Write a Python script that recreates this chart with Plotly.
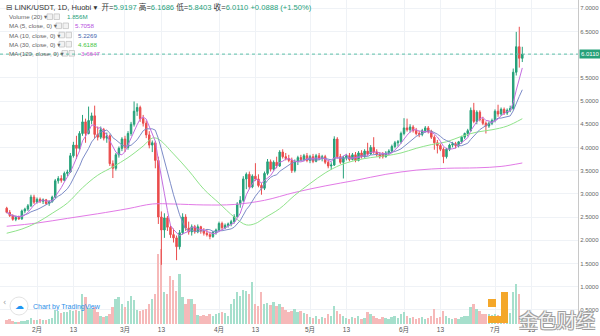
import plotly.graph_objects as go
import pandas as pd

# ---------------- data ----------------
start_date = "2020-01-22"

opens = [2.69, 2.60, 2.53, 2.45, 2.49, 2.46, 2.63, 2.67, 2.74, 2.93,
         2.82, 2.88, 2.84, 2.87, 2.79, 2.83, 2.93, 3.28, 3.33, 3.29,
         3.44, 3.47, 3.82, 4.05, 3.98, 4.30, 4.55, 4.30, 4.58, 4.68,
         4.28, 4.22, 4.38, 4.20, 4.25, 3.65, 3.55, 3.84, 3.98, 4.18,
         4.00, 4.30, 4.50, 4.78, 4.86, 4.62, 4.52, 4.27, 4.05, 4.10,
         3.72, 2.50, 2.22, 2.48, 2.28, 2.12, 2.05, 1.86, 2.16, 2.50,
         2.26, 2.18, 2.29, 2.18, 2.29, 2.20, 2.15, 2.12, 2.08, 2.17,
         2.22, 2.36, 2.27, 2.32, 2.35, 2.40, 2.51, 2.78, 2.86, 3.32,
         3.42, 3.15, 3.38, 3.32, 3.18, 3.12, 3.44, 3.69, 3.53, 3.68,
         3.60, 3.90, 3.80, 3.76, 3.72, 3.50, 3.70, 3.78, 3.74, 3.82,
         3.72, 3.80, 3.70, 3.82, 3.76, 3.80, 3.68, 3.60, 3.62, 4.18,
         3.80, 3.68, 3.78, 3.82, 3.74, 3.84, 3.72, 3.88, 3.80, 3.92,
         3.86, 4.00, 3.90, 3.84, 3.86, 3.80, 3.88, 3.92, 4.02, 4.10,
         4.12, 4.30, 4.42, 4.38, 4.44, 4.36, 4.30, 4.28, 4.36, 4.42,
         4.34, 4.22, 4.10, 4.04, 3.96, 3.80, 3.96, 4.05, 4.08, 4.04,
         4.12, 4.22, 4.30, 4.36, 4.80, 4.56, 4.76, 4.60, 4.52, 4.46,
         4.52, 4.58, 4.78, 4.72, 4.82, 4.74, 4.80, 4.84, 5.62, 6.17,
         5.9197]
highs = [2.72, 2.65, 2.56, 2.52, 2.53, 2.66, 2.70, 2.78, 2.98, 2.98,
         2.92, 2.92, 2.90, 2.89, 2.86, 2.96, 3.32, 3.38, 3.40, 3.48,
         3.52, 3.88, 4.12, 4.25, 4.35, 4.70, 4.62, 4.88, 4.75, 4.90,
         4.45, 4.45, 4.42, 4.32, 4.28, 3.72, 3.88, 4.02, 4.22, 4.25,
         4.35, 4.55, 4.99, 4.95, 4.90, 4.70, 4.58, 4.35, 4.15, 4.14,
         3.80, 2.62, 2.58, 2.52, 2.32, 2.25, 2.10, 2.22, 2.58, 2.56,
         2.40, 2.34, 2.33, 2.34, 2.31, 2.26, 2.24, 2.18, 2.20, 2.25,
         2.40, 2.40, 2.36, 2.38, 2.44, 2.56, 2.82, 2.95, 3.38, 3.46,
         3.48, 3.42, 3.66, 3.42, 3.24, 3.48, 3.75, 3.74, 3.72, 3.80,
         3.94, 3.96, 3.88, 3.84, 3.78, 3.74, 3.82, 3.84, 3.86, 3.88,
         3.84, 3.86, 3.86, 3.88, 3.84, 3.84, 3.72, 3.68, 4.24, 4.22,
         3.86, 3.82, 3.86, 3.88, 3.88, 3.90, 3.92, 3.94, 3.96, 4.10,
         4.05, 4.22, 3.96, 3.90, 3.90, 3.92, 3.96, 4.06, 4.14, 4.16,
         4.34, 4.63, 4.62, 4.50, 4.48, 4.42, 4.36, 4.40, 4.46, 4.46,
         4.38, 4.26, 4.16, 4.08, 4.00, 3.99, 4.08, 4.12, 4.12, 4.14,
         4.25, 4.32, 4.40, 4.86, 4.96, 4.80, 4.80, 4.66, 4.56, 4.56,
         4.62, 4.82, 4.92, 4.86, 4.86, 4.84, 4.90, 5.70, 6.49, 6.60,
         6.1686]
lows = [2.58, 2.50, 2.42, 2.41, 2.44, 2.44, 2.58, 2.63, 2.72, 2.78,
        2.79, 2.80, 2.78, 2.76, 2.74, 2.81, 2.91, 3.22, 3.24, 3.27,
        3.38, 3.45, 3.78, 3.75, 3.95, 4.25, 4.10, 4.28, 4.50, 4.20,
        4.15, 4.18, 4.15, 4.10, 3.60, 3.34, 3.50, 3.78, 3.92, 3.90,
        3.95, 4.25, 4.45, 4.68, 4.55, 4.45, 4.20, 3.98, 3.90, 3.55,
        2.35, 1.47, 2.05, 2.20, 2.05, 1.95, 1.57, 1.80, 2.12, 2.20,
        2.12, 2.10, 2.14, 2.15, 2.14, 2.10, 2.08, 2.02, 2.05, 2.12,
        2.18, 2.22, 2.24, 2.27, 2.30, 2.36, 2.48, 2.70, 2.82, 3.10,
        3.10, 3.12, 3.28, 3.14, 2.98, 3.08, 3.40, 3.48, 3.50, 3.55,
        3.58, 3.76, 3.72, 3.68, 3.45, 3.46, 3.62, 3.70, 3.70, 3.68,
        3.66, 3.66, 3.68, 3.72, 3.70, 3.64, 3.55, 3.52, 3.60, 3.76,
        3.64, 3.33, 3.72, 3.70, 3.72, 3.68, 3.70, 3.76, 3.78, 3.82,
        3.84, 3.86, 3.80, 3.76, 3.76, 3.78, 3.84, 3.88, 3.98, 4.02,
        4.08, 4.26, 4.34, 4.32, 4.32, 4.26, 4.22, 4.24, 4.32, 4.30,
        4.18, 3.95, 3.87, 3.92, 3.66, 3.76, 3.92, 4.00, 3.98, 4.00,
        4.08, 4.18, 4.24, 4.34, 4.52, 4.50, 4.56, 4.48, 4.30, 4.42,
        4.48, 4.54, 4.66, 4.68, 4.70, 4.70, 4.76, 4.80, 5.55, 5.72,
        5.8403]
closes = [2.60, 2.53, 2.45, 2.49, 2.46, 2.63, 2.67, 2.74, 2.93, 2.82,
          2.88, 2.84, 2.87, 2.79, 2.83, 2.93, 3.28, 3.33, 3.29, 3.44,
          3.47, 3.82, 4.05, 3.98, 4.30, 4.55, 4.30, 4.58, 4.68, 4.28,
          4.22, 4.38, 4.20, 4.25, 3.65, 3.55, 3.84, 3.98, 4.18, 4.00,
          4.30, 4.50, 4.78, 4.86, 4.62, 4.52, 4.27, 4.05, 4.10, 3.72,
          2.50, 2.22, 2.48, 2.28, 2.12, 2.05, 1.86, 2.16, 2.50, 2.26,
          2.18, 2.29, 2.18, 2.29, 2.20, 2.15, 2.12, 2.08, 2.17, 2.22,
          2.36, 2.27, 2.32, 2.35, 2.40, 2.51, 2.78, 2.86, 3.32, 3.42,
          3.15, 3.38, 3.32, 3.18, 3.12, 3.44, 3.69, 3.53, 3.68, 3.60,
          3.90, 3.80, 3.76, 3.72, 3.50, 3.70, 3.78, 3.74, 3.82, 3.72,
          3.80, 3.70, 3.82, 3.76, 3.80, 3.68, 3.60, 3.62, 4.18, 3.80,
          3.68, 3.78, 3.82, 3.74, 3.84, 3.72, 3.88, 3.80, 3.92, 3.86,
          4.00, 3.90, 3.84, 3.80, 3.80, 3.88, 3.92, 4.02, 4.10, 4.12,
          4.30, 4.42, 4.38, 4.44, 4.36, 4.30, 4.28, 4.36, 4.42, 4.34,
          4.22, 4.10, 4.04, 3.96, 3.80, 3.96, 4.05, 4.08, 4.04, 4.12,
          4.22, 4.30, 4.36, 4.80, 4.56, 4.76, 4.60, 4.52, 4.46, 4.52,
          4.58, 4.78, 4.72, 4.82, 4.74, 4.80, 4.84, 5.62, 6.17, 5.9222,
          6.0110]
volumes = [0.8, 1.0, 0.6, 0.4, 0.4, 0.6, 0.6, 0.8, 1.2, 0.8,
           0.8, 1.0, 0.8, 0.8, 1.0, 1.2, 2.8, 2.6, 2.2, 2.4,
           2.4, 2.8, 2.6, 2.8, 2.6, 6.0, 5.4, 3.2, 3.0, 3.4,
           2.4, 1.6, 1.4, 1.6, 2.0, 3.4, 5.0, 5.4, 4.0, 3.4,
           4.6, 5.6, 4.8, 2.8, 2.6, 2.8, 3.0, 4.0, 5.0, 6.0,
           14.0, 15.0, 6.4, 6.0, 9.6, 8.8, 6.6, 10.0, 5.4, 4.0,
           5.0, 5.0, 4.0, 1.8, 1.6, 1.8, 1.6, 2.0, 1.6, 2.0,
           2.2, 2.4, 2.2, 1.6, 4.0, 5.0, 6.4, 5.6, 6.8, 6.6,
           6.0, 8.4, 4.0, 3.6, 6.4, 4.0, 4.2, 3.8, 4.4, 3.6,
           4.0, 3.4, 2.8, 2.4, 2.6, 3.0, 2.4, 2.6, 2.2, 2.0,
           1.4, 1.2, 1.6, 1.0, 1.4, 1.2, 2.0, 1.6, 3.6, 2.6,
           2.0, 1.6, 1.2, 1.0, 1.4, 1.2, 1.6, 1.0, 1.2, 2.4,
           2.0, 1.6, 1.2, 1.0, 1.4, 1.2, 1.0, 1.4, 1.6, 1.2,
           2.0, 2.4, 1.6, 1.2, 1.4, 1.0, 1.2, 1.4, 1.0, 1.2,
           1.6, 3.0, 1.2, 1.4, 2.6, 1.6, 1.2, 1.0, 1.2, 1.0,
           1.4, 1.6, 1.6, 3.4, 4.0, 3.0, 2.6, 2.0, 2.0, 2.0,
           1.8, 2.0, 1.8, 1.6, 1.8, 2.0, 2.2, 6.4, 8.0, 6.0,
           1.856]

# moving averages (day index, value)
ma30_idx = [0, 5, 10, 15, 20, 25, 30, 35, 40, 45, 48, 50, 55, 60, 65, 70, 75, 79,
            82, 85, 90, 95, 100, 105, 110, 115, 120, 125, 130, 135, 140, 145,
            150, 155, 160, 165, 170]
ma30_val = [2.15, 2.24, 2.38, 2.58, 2.80, 3.13, 3.40, 3.58, 3.78, 4.03, 4.20, 4.18,
            3.86, 3.50, 3.10, 2.80, 2.50, 2.33, 2.36, 2.48, 2.68, 2.97, 3.22, 3.45,
            3.62, 3.72, 3.78, 3.82, 3.88, 3.98, 4.06, 4.12, 4.24, 4.33, 4.38, 4.46,
            4.6188]
ma120_idx = [0, 10, 20, 30, 40, 48, 55, 65, 75, 85, 95, 105, 115, 125, 135, 145,
             155, 163, 170]
ma120_val = [2.30, 2.37, 2.47, 2.57, 2.68, 2.78, 2.78, 2.76, 2.77, 2.86, 3.03, 3.17,
             3.29, 3.42, 3.51, 3.55, 3.56, 3.59, 3.6647]

price_ticks = [0.5, 1.0, 1.5, 2.0, 2.5, 3.0, 3.5, 4.0, 4.5, 5.0, 5.5, 6.0, 6.5, 7.0]
x_tick_dates = ["2020-02-01", "2020-02-13", "2020-03-01", "2020-03-13",
                "2020-04-01", "2020-04-13", "2020-05-01", "2020-05-13",
                "2020-06-01", "2020-06-13", "2020-07-01", "2020-07-13"]
x_tick_text = ["2月", "13", "3月", "13", "4月", "13", "5月", "13", "6月", "13", "7月", "13"]

last_price = 6.0110

n = len(closes)
for name, arr in [("opens", opens), ("highs", highs), ("lows", lows), ("volumes", volumes)]:
    if len(arr) != n:
        raise ValueError(f"{name} has {len(arr)} values, expected {n}")

# ---------------- derived ----------------
dates = pd.date_range(start_date, periods=n, freq="D")
close_s = pd.Series(closes)
ma5 = close_s.rolling(5, min_periods=1).mean()
ma10 = close_s.rolling(10, min_periods=1).mean()
ma30_dates = [dates[i] for i in ma30_idx]
ma120_dates = [dates[i] for i in ma120_idx]

UP = "#26a17a"
DOWN = "#ea4d4d"
UP_VOL = "#a6dfcc"
DOWN_VOL = "#f6b9b9"
vol_colors = [UP_VOL if c >= o else DOWN_VOL for o, c in zip(opens, closes)]

FONT = "Liberation Sans, Arial, Noto Sans CJK SC, DejaVu Sans"

fig = go.Figure()

# volume (bottom, own hidden scale)
fig.add_trace(go.Bar(x=dates, y=volumes, marker=dict(color=vol_colors, line=dict(width=0)),
                     width=0.62 * 86400000, yaxis="y", hoverinfo="skip"))

# candles
fig.add_trace(go.Candlestick(
    x=dates, open=opens, high=highs, low=lows, close=closes, yaxis="y2",
    increasing=dict(line=dict(color=UP, width=1), fillcolor=UP),
    decreasing=dict(line=dict(color=DOWN, width=1), fillcolor=DOWN),
    whiskerwidth=0, hoverinfo="skip"))

# moving averages
fig.add_trace(go.Scatter(x=ma120_dates, y=ma120_val, yaxis="y2", mode="lines",
                         line=dict(color="#e27ae6", width=1, shape="spline"), hoverinfo="skip"))
fig.add_trace(go.Scatter(x=ma30_dates, y=ma30_val, yaxis="y2", mode="lines",
                         line=dict(color="#8fe38a", width=1, shape="spline"), hoverinfo="skip"))
fig.add_trace(go.Scatter(x=dates, y=ma10, yaxis="y2", mode="lines",
                         line=dict(color="#7d8cc8", width=1), hoverinfo="skip"))
fig.add_trace(go.Scatter(x=dates, y=ma5, yaxis="y2", mode="lines",
                         line=dict(color="#c46ee0", width=1), hoverinfo="skip"))

PLOT_W, PLOT_H = 578.0, 324.0


def fx(px):
    return px / PLOT_W


def fy(py):
    return 1 - py / PLOT_H


annotations = []
shapes = []

# title line
title_html = ("<span style='color:#333'>⊟ LINK/USDT, 1D, Huobi ▾</span>"
              "&nbsp;&nbsp;<span style='color:#333'>开=</span><span style='color:#26a17a'>5.9197</span>"
              "&nbsp;<span style='color:#333'>高=</span><span style='color:#26a17a'>6.1686</span>"
              "&nbsp;<span style='color:#333'>低=</span><span style='color:#26a17a'>5.8403</span>"
              "&nbsp;<span style='color:#333'>收=</span><span style='color:#26a17a'>6.0110</span>"
              "&nbsp;<span style='color:#26a17a'>+0.0888 (+1.50%)</span>")
annotations.append(dict(x=fx(4), y=fy(7.5), xref="paper", yref="paper", text=title_html,
                        showarrow=False, xanchor="left", yanchor="middle",
                        font=dict(family=FONT, size=7.6, color="#333")))

legend_rows = [
    ("Volume (20) ▾", "1.856M", "#26a17a", 16.7, 47, 65),
    ("MA (5, close, 0) ▾", "5.7058", "#b64fe0", 25.8, 56, 73),
    ("MA (10, close, 0) ▾", "5.2269", "#4a68b0", 35.0, 59, 76),
    ("MA (30, close, 0) ▾", "4.6188", "#3fc43f", 44.2, 59, 76),
    ("MA (120, close, 0) ▾", "3.6647", "#d457d8", 53.3, 62, 79),
]
for label, val, col, yy, icon_x, val_x in legend_rows:
    annotations.append(dict(x=fx(7), y=fy(yy), xref="paper", yref="paper", text=label,
                            showarrow=False, xanchor="left", yanchor="middle",
                            font=dict(family=FONT, size=6.2, color="#666")))
    annotations.append(dict(x=fx(val_x), y=fy(yy), xref="paper", yref="paper", text=val,
                            showarrow=False, xanchor="left", yanchor="middle",
                            font=dict(family=FONT, size=6.2, color=col)))
    for k in range(2):
        x0 = icon_x + k * 7
        shapes.append(dict(type="rect", xref="paper", yref="paper",
                           x0=fx(x0), x1=fx(x0 + 5.5), y0=fy(yy - 2.8), y1=fy(yy + 2.8),
                           line=dict(color="#c4c4c4", width=0.8), fillcolor="#f2f2f2"))

# last price line + label
shapes.append(dict(type="line", xref="paper", yref="y2", x0=0, x1=1, y0=last_price, y1=last_price,
                   line=dict(color="#5cc0a8", width=1, dash="dot")))
annotations.append(dict(x=1, y=last_price, xref="paper", yref="y2", text="6.0110",
                        showarrow=False, xanchor="left", yanchor="middle", xshift=1,
                        bgcolor="#26a17a", borderpad=1,
                        font=dict(family=FONT, size=6, color="white")))

# collapse chevron at left edge
annotations.append(dict(x=fx(1), y=fy(302), xref="paper", yref="paper", text="‹",
                        showarrow=False, xanchor="left", yanchor="middle",
                        font=dict(family="DejaVu Sans", size=8, color="#999")))

# TradingView badge
shapes.append(dict(type="circle", xref="paper", yref="paper",
                   x0=fx(10), x1=fx(28), y0=fy(297), y1=fy(315),
                   line=dict(color="#e3e3e3", width=1), fillcolor="white"))
annotations.append(dict(x=fx(19), y=fy(306), xref="paper", yref="paper", text="☁",
                        showarrow=False, xanchor="center", yanchor="middle",
                        font=dict(family="DejaVu Sans", size=9, color="#2196f3")))
annotations.append(dict(x=fx(31), y=fy(306.5), xref="paper", yref="paper", text="Chart by TradingView",
                        showarrow=False, xanchor="left", yanchor="middle",
                        font=dict(family=FONT, size=7, color="#2d8fe8")))

# watermark logo + text
shapes.append(dict(type="rect", xref="paper", yref="paper", x0=fx(488), x1=fx(496),
                   y0=fy(299), y1=fy(307), line=dict(width=0), fillcolor="#f4a72a"))
shapes.append(dict(type="rect", xref="paper", yref="paper", x0=fx(501), x1=fx(508),
                   y0=fy(292), y1=fy(323), line=dict(width=0), fillcolor="#f4a72a"))
shapes.append(dict(type="rect", xref="paper", yref="paper", x0=fx(488), x1=fx(508),
                   y0=fy(316), y1=fy(323), line=dict(width=0), fillcolor="#f4a72a"))
annotations.append(dict(x=fx(557), y=fy(319), xref="paper", yref="paper", text="金色财经",
                        showarrow=False, xanchor="center", yanchor="middle",
                        font=dict(family="Noto Sans CJK SC", size=19, color="rgba(255,255,255,0.9)",
                                  shadow="-1px -1px 0 #9a9a9a, 1px -1px 0 #9a9a9a, -1px 1px 0 #9a9a9a, 1px 1px 0 #9a9a9a")))

fig.update_layout(
    width=600, height=336,
    margin=dict(l=0, r=22, t=0, b=12),
    paper_bgcolor="white", plot_bgcolor="white",
    showlegend=False, bargap=0,
    font=dict(family=FONT, size=7, color="#555"),
    xaxis=dict(type="date",
               range=[pd.Timestamp("2020-01-19 19:00"), pd.Timestamp("2020-07-28 08:38")],
               tickvals=[pd.Timestamp(d) for d in x_tick_dates], ticktext=x_tick_text,
               showgrid=True, gridcolor="#eff2f6", gridwidth=1, zeroline=False,
               ticks="", tickfont=dict(family=FONT, size=6.5, color="#555"),
               showline=False, rangeslider=dict(visible=False), fixedrange=True),
    yaxis=dict(range=[0, 64.8], visible=False, showgrid=False, fixedrange=True),
    yaxis2=dict(overlaying="y", side="right", range=[0.194, 7.177],
                tickvals=price_ticks, ticktext=[f"{v:.4f}" for v in price_ticks],
                showgrid=True, gridcolor="#eff2f6", gridwidth=1, zeroline=False,
                ticks="", tickfont=dict(family=FONT, size=6, color="#666"),
                showline=True, linecolor="#c8c8c8", linewidth=1, fixedrange=True),
    annotations=annotations, shapes=shapes,
)

fig.write_html("out.html")
